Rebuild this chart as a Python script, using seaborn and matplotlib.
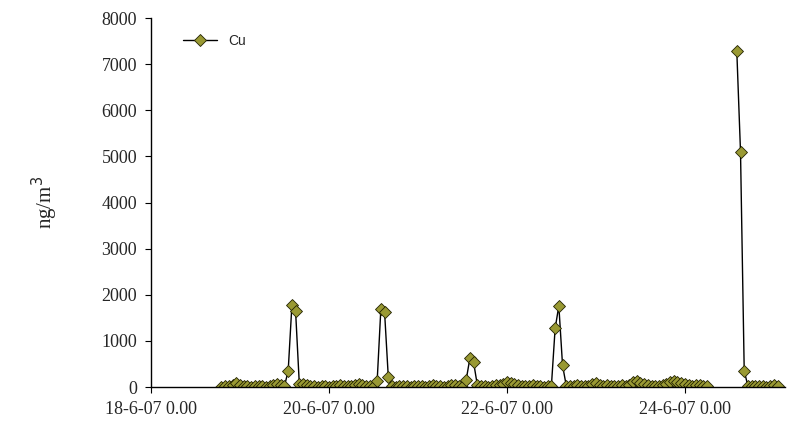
import matplotlib
matplotlib.use("Agg")
import matplotlib.pyplot as plt
import seaborn as sns
import pandas as pd
import numpy as np

sns.set_style("white")
plt.rcParams['font.family'] = ['Liberation Serif', 'DejaVu Serif']

start = pd.Timestamp("2007-06-18 00:00")
# hours since 18-6-07 0.00
hours_a = list(range(19, 151))
cu_a = [10, 20, 30, 40, 80, 50, 30, 20, 10, 20, 30, 20, 10, 30, 50, 60, 40, 20,   # 19-36
        350, 1770, 1640, 70, 60, 40, 30, 20, 10, 20, 30, 10, 20, 30, 40, 30, 20, 30, 40, 60, 40, 30, 20, 10,  # 37-60
        130, 1700, 1620, 220, 20, 10, 20, 30, 20, 10, 20, 30, 20, 10, 30, 40, 30, 20, 10, 30, 50, 40, 30, 10,  # 61-84
        150, 620, 540, 50, 30, 20, 10, 30, 40, 50, 70, 110, 80, 60, 40, 30, 20, 30, 40, 30, 20, 10, 20, 30,   # 85-108
        1270, 1760, 470, 30, 20, 30, 40, 30, 20, 30, 60, 80, 50, 30, 40, 30, 20, 30, 40, 30, 50, 110, 140, 90,  # 109-132
        60, 40, 30, 20, 30, 40, 60, 100, 130, 110, 80, 60, 40, 30, 50, 40, 30, 20]  # 133-150
hours_b = list(range(158, 170))
cu_b = [7280, 5100, 350, 20, 30, 20, 30, 20, 10, 20, 40, 30]

t_a = [start + pd.Timedelta(hours=h) for h in hours_a]
t_b = [start + pd.Timedelta(hours=h) for h in hours_b]
df = pd.DataFrame({"time": t_a + [start + pd.Timedelta(hours=154)] + t_b,
                   "Cu": cu_a + [np.nan] + cu_b})

fig = plt.figure(figsize=(8.07, 4.32), dpi=100)
ax = fig.add_axes([151/807, 1-387/432, (785-151)/807, (387-18)/432])
ax.plot(df["time"], df["Cu"], color="black", lw=1, marker="D", ms=6.5,
        mfc="#999933", mec="#222200", mew=0.6, label="Cu")

ax.set_xlim(start, start + pd.Timedelta(hours=171))
ax.set_ylim(0, 8000)
ax.set_yticks(range(0, 8001, 1000))
ticks = [start + pd.Timedelta(days=d) for d in (0, 2, 4, 6)]
ax.set_xticks(ticks)
ax.set_xticklabels(["18-6-07 0.00", "20-6-07 0.00", "22-6-07 0.00", "24-6-07 0.00"])
for s in ("top", "right"):
    ax.spines[s].set_visible(False)
for s in ("left", "bottom"):
    ax.spines[s].set_color("black")
    ax.spines[s].set_linewidth(1)
ax.tick_params(axis="both", direction="out", length=4, color="black", labelsize=13,
               left=True, bottom=True, pad=6)
ax.set_ylabel("ng/m$^3$", fontsize=15, labelpad=30)
leg = ax.legend(loc="upper left", frameon=False, prop={"family": "Liberation Sans", "size": 10},
                bbox_to_anchor=(0.03, 0.99), handlelength=2.5)
fig.savefig("out.png", dpi=100)
